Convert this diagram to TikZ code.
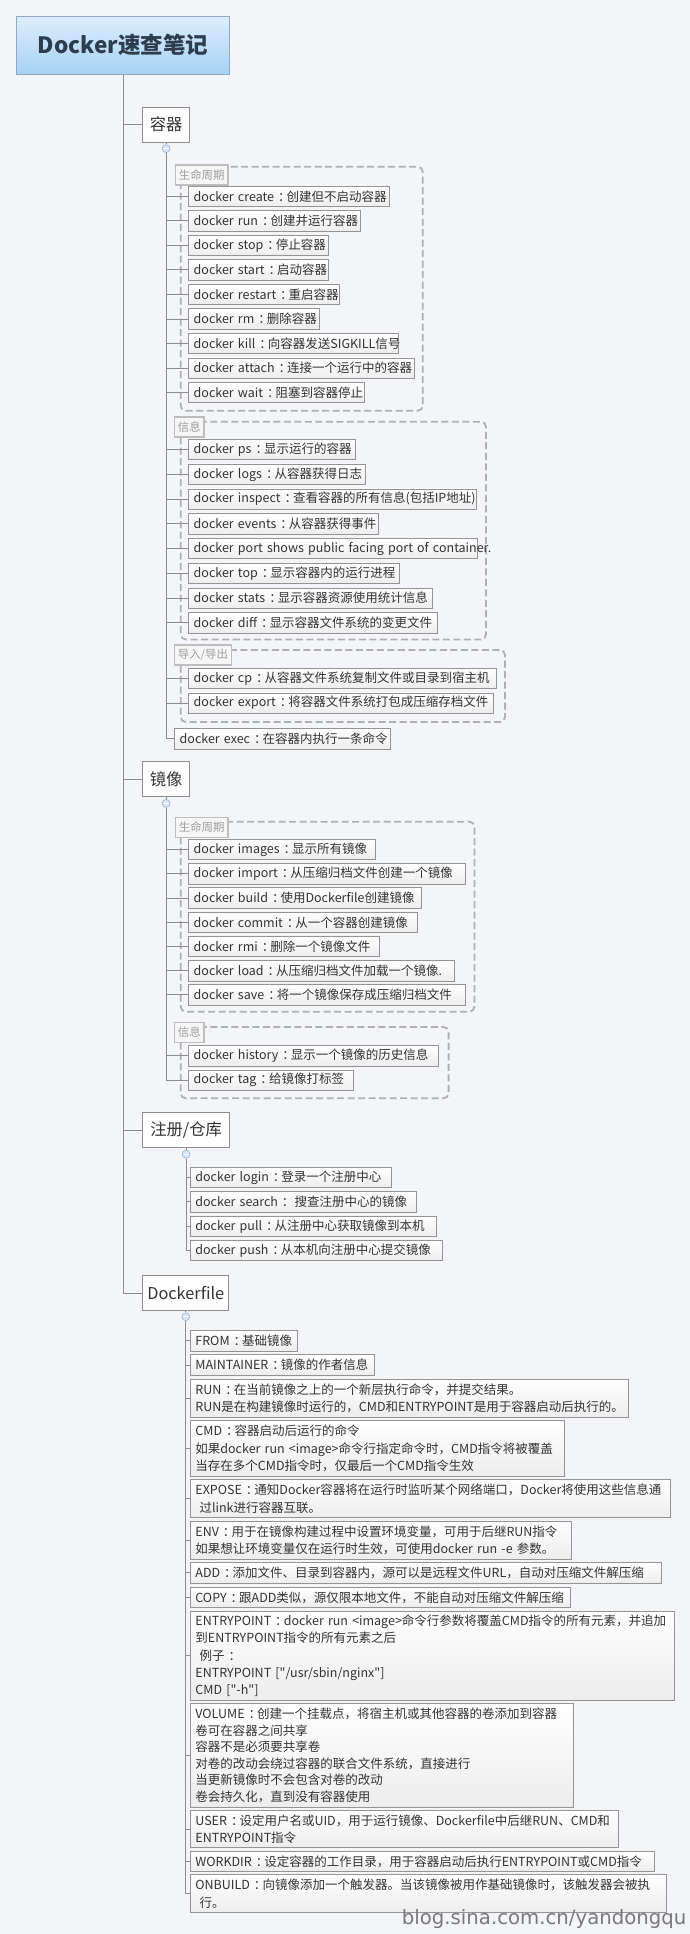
\documentclass[tikz,border=0pt]{standalone}
\usepackage{fontspec}
\newfontfamily\cjk{Noto Sans CJK SC}
\newfontfamily\wmfont{DejaVu Sans}
\definecolor{bgc}{HTML}{F3F5F8}
\definecolor{lnc}{HTML}{8C8C8C}
\definecolor{itb}{HTML}{949494}
\definecolor{itf}{HTML}{EDEDED}
\definecolor{txt}{HTML}{333333}
\definecolor{secb}{HTML}{8E8E8E}
\definecolor{glb}{HTML}{BDBDBD}
\definecolor{glf}{HTML}{F6F6F6}
\definecolor{glt}{HTML}{9E9E9E}
\definecolor{gfc}{HTML}{B0B0B0}
\definecolor{colb}{HTML}{9AB8D8}
\definecolor{colf}{HTML}{D4E6F8}
\definecolor{ttop}{HTML}{DDEEFC}
\definecolor{tbot}{HTML}{A6D1F4}
\definecolor{tbor}{HTML}{8FA9C4}
\definecolor{ttxt}{HTML}{2E3D4D}
\definecolor{wmc}{HTML}{7A7A7A}
\newcommand\cn{\kern4pt：\kern-4pt}
\newcommand\dkitem[7][]{%
  \pgfmathsetmacro\dkW{#5-#3-10}%
  \pgfmathsetmacro\dkH{#6-#4}%
  \node[itembox,#1,text width=\dkW pt,minimum height=\dkH pt] (#2) at (#3,#4) {#7};}
\begin{document}
\begin{tikzpicture}[x=1pt,y=-1pt,
  conn/.style={draw=lnc,line width=0.9pt},
  itembox/.style={draw=itb,top color=white,bottom color=itf,line width=0.8pt,
    inner xsep=5pt,inner ysep=0pt,align=left,text=txt,anchor=north west,
    font=\cjk\fontsize{12.5}{17.4}\selectfont},
  section/.style={draw=secb,fill=white,line width=0.9pt,inner sep=0pt,
    font=\cjk\fontsize{16.3}{18}\selectfont,text=txt,anchor=north west},
  grouplabel/.style={draw=glb,fill=glf,line width=1.8pt,inner xsep=3.5pt,inner ysep=0pt,
    minimum height=20pt,font=\cjk\fontsize{11.4}{13}\selectfont,text=glt,anchor=north west},
  groupframe/.style={draw=gfc,line width=1.8pt,dash pattern=on 7pt off 3.5pt,rounded corners=5pt},
  collapse/.style={circle,draw=colb,fill=colf,minimum size=8pt,inner sep=0pt,line width=0.6pt,
    path picture={\draw[white,line width=0.7pt]
      ([xshift=-2pt]path picture bounding box.center) -- ([xshift=2pt]path picture bounding box.center);}},
  titlebox/.style={draw=tbor,top color=ttop,bottom color=tbot,line width=0.9pt,inner sep=0pt,
    font=\cjk\bfseries\fontsize{22.5}{24}\selectfont,text=ttxt,anchor=north west}
]
\useasboundingbox (0,0) rectangle (690,1934);
\fill[bgc] (0,0) rectangle (690,1934);

% group frames
\draw[groupframe] (180.7,166.7) rectangle (422.7,410.7);
\draw[groupframe] (180.7,421.7) rectangle (486,639.5);
\draw[groupframe] (180.7,650) rectangle (505,722);
\draw[groupframe] (180.7,821.7) rectangle (474.4,1011.7);
\draw[groupframe] (180.7,1026.9) rectangle (448.6,1098.3);

% title and sections
\node[titlebox,minimum width=213.6pt,minimum height=58.3pt] (title) at (15.7,15.7) {Docker速查笔记};
\node[section,minimum width=47.3pt,minimum height=35pt] (sA) at (142,106.7) {容器};
\node[section,minimum width=47.3pt,minimum height=35pt] (sB) at (142,761) {镜像};
\node[section,minimum width=86.7pt,minimum height=35pt] (sC) at (142.3,1112.3) {注册/仓库};
\node[section,minimum width=86pt,minimum height=35pt] (sD) at (142.3,1275) {Dockerfile};

\node[collapse] (cA) at ([yshift=-6pt]sA.south) {};
\node[collapse] (cB) at ([yshift=-6.5pt]sB.south) {};
\node[collapse] (cC) at ([yshift=-6pt]sC.south) {};
\node[collapse] (cD) at ([yshift=-5.8pt]sD.south) {};

% group labels
\node[grouplabel] (gA1) at (174.5,164.3) {生命周期};
\node[grouplabel] (gA2) at (173.5,416) {信息};
\node[grouplabel] (gA3) at (173.5,644.3) {导入/导出};
\node[grouplabel] (gB1) at (174.5,816.5) {生命周期};
\node[grouplabel] (gB2) at (173.5,1021.5) {信息};

% 容器 - 生命周期
\dkitem{a1}{188.3}{185.7}{389}{206.1}{\mbox{docker create\cn 创建但不启动容器}}
\dkitem{a2}{188.3}{210.2}{360.3}{230.6}{\mbox{docker run\cn 创建并运行容器}}
\dkitem{a3}{188.3}{234.8}{328.3}{255.2}{\mbox{docker stop\cn 停止容器}}
\dkitem{a4}{188.3}{259.3}{328.3}{279.7}{\mbox{docker start\cn 启动容器}}
\dkitem{a5}{188.3}{283.9}{339.3}{304.3}{\mbox{docker restart\cn 重启容器}}
\dkitem{a6}{188.3}{308.4}{319}{328.8}{\mbox{docker rm\cn 删除容器}}
\dkitem{a7}{188.3}{332.9}{398.3}{353.3}{\mbox{docker kill\cn 向容器发送SIGKILL信号}}
\dkitem{a8}{188.3}{357.5}{414}{377.9}{\mbox{docker attach\cn 连接一个运行中的容器}}
\dkitem{a9}{188.3}{382.0}{364.3}{402.4}{\mbox{docker wait\cn 阻塞到容器停止}}
% 容器 - 信息
\dkitem{b1}{188.3}{439.0}{355}{459.4}{\mbox{docker ps\cn 显示运行的容器}}
\dkitem{b2}{188.3}{463.8}{365.3}{484.2}{\mbox{docker logs\cn 从容器获得日志}}
\dkitem{b3}{188.3}{488.5}{475.7}{508.9}{\mbox{docker inspect\cn 查看容器的所有信息(包括IP地址)}}
\dkitem{b4}{188.3}{513.3}{377.7}{533.7}{\mbox{docker events\cn 从容器获得事件}}
\dkitem{b5}{188.3}{538.0}{476.7}{558.4}{\mbox{docker port shows public facing port of container.}}
\dkitem{b6}{188.3}{562.8}{399.3}{583.2}{\mbox{docker top\cn 显示容器内的运行进程}}
\dkitem{b7}{188.3}{587.6}{431.7}{608.0}{\mbox{docker stats\cn 显示容器资源使用统计信息}}
\dkitem{b8}{188.3}{612.3}{437}{632.7}{\mbox{docker diff\cn 显示容器文件系统的变更文件}}
% 容器 - 导入/导出
\dkitem{c1}{188.3}{667.7}{495.7}{688.1}{\mbox{docker cp\cn 从容器文件系统复制文件或目录到宿主机}}
\dkitem{c2}{188.3}{692.5}{492.7}{712.9}{\mbox{docker export\cn 将容器文件系统打包成压缩存档文件}}
\dkitem{c3}{174.3}{728.3}{390.3}{748.7}{\mbox{docker exec\cn 在容器内执行一条命令}}
% 镜像 - 生命周期
\dkitem{d1}{188.3}{839.0}{375.3}{859.4}{\mbox{docker images\cn 显示所有镜像}}
\dkitem{d2}{188.3}{863.2}{464.5}{883.6}{\mbox{docker import\cn 从压缩归档文件创建一个镜像}}
\dkitem{d3}{188.3}{887.4}{420.7}{907.8}{\mbox{docker build\cn 使用Dockerfile创建镜像}}
\dkitem{d4}{188.3}{911.7}{416.6}{932.1}{\mbox{docker commit\cn 从一个容器创建镜像}}
\dkitem{d5}{188.3}{935.9}{378.7}{956.3}{\mbox{docker rmi\cn 删除一个镜像文件}}
\dkitem{d6}{188.3}{960.1}{454.1}{980.5}{\mbox{docker load\cn 从压缩归档文件加载一个镜像.}}
\dkitem{d7}{188.3}{984.3}{464.8}{1004.7}{\mbox{docker save\cn 将一个镜像保存成压缩归档文件}}
% 镜像 - 信息
\dkitem{e1}{188.3}{1045.1}{438.3}{1065.5}{\mbox{docker history\cn 显示一个镜像的历史信息}}
\dkitem{e2}{188.3}{1069.5}{352.6}{1089.9}{\mbox{docker tag\cn 给镜像打标签}}
% 注册/仓库
\dkitem{f1}{190}{1166.7}{391.1}{1187.1}{\mbox{docker login\cn 登录一个注册中心}}
\dkitem{f2}{190}{1191.1}{415.6}{1211.5}{\mbox{docker search\cn{} 搜查注册中心的镜像}}
\dkitem{f3}{190}{1215.6}{436.2}{1236.0}{\mbox{docker pull\cn 从注册中心获取镜像到本机}}
\dkitem{f4}{190}{1240.0}{442.4}{1260.4}{\mbox{docker push\cn 从本机向注册中心提交镜像}}
% Dockerfile
\dkitem{g1}{190}{1330}{297.3}{1350.7}{\mbox{FROM\cn 基础镜像}}
\dkitem{g2}{190}{1354.3}{374.4}{1375}{\mbox{MAINTAINER\cn 镜像的作者信息}}
\dkitem{g3}{190}{1378.7}{628.3}{1416.7}{\mbox{RUN\cn 在当前镜像之上的一个新层执行命令，并提交结果。}\\\mbox{RUN是在构建镜像时运行的，CMD和ENTRYPOINT是用于容器启动后执行的。}}
\dkitem{g4}{190}{1420}{564.3}{1476}{\mbox{CMD\cn 容器启动后运行的命令}\\\mbox{如果docker run <image>命令行指定命令时，CMD指令将被覆盖}\\\mbox{当存在多个CMD指令时，仅最后一个CMD指令生效}}
\dkitem{g5}{190}{1479.3}{670}{1517.3}{\mbox{EXPOSE\cn 通知Docker容器将在运行时监听某个网络端口，Docker将使用这些信息通}\\\mbox{ 过link进行容器互联。}}
\dkitem{g6}{190}{1520.7}{571}{1558.7}{\mbox{ENV\cn 用于在镜像构建过程中设置环境变量，可用于后继RUN指令}\\\mbox{如果想让环境变量仅在运行时生效，可使用docker run -e 参数。}}
\dkitem{g7}{190}{1562.3}{660.7}{1582.7}{\mbox{ADD\cn 添加文件、目录到容器内，源可以是远程文件URL，自动对压缩文件解压缩}}
\dkitem{g8}{190}{1586.7}{570}{1607.3}{\mbox{COPY\cn 跟ADD类似，源仅限本地文件，不能自动对压缩文件解压缩}}
\dkitem{g9}{190}{1610.7}{674.3}{1700}{\mbox{ENTRYPOINT\cn docker run <image>命令行参数将覆盖CMD指令的所有元素，并追加}\\\mbox{到ENTRYPOINT指令的所有元素之后}\\\mbox{ 例子\cn}\\\mbox{ENTRYPOINT ["/usr/sbin/nginx"]}\\\mbox{CMD ["-h"]}}
\dkitem[font=\cjk\fontsize{12.5}{16.6}\selectfont]{g10}{190}{1703.3}{573.3}{1806.7}{\mbox{VOLUME\cn 创建一个挂载点，将宿主机或其他容器的卷添加到容器}\\\mbox{卷可在容器之间共享}\\\mbox{容器不是必须要共享卷}\\\mbox{对卷的改动会绕过容器的联合文件系统，直接进行}\\\mbox{当更新镜像时不会包含对卷的改动}\\\mbox{卷会持久化，直到没有容器使用}}
\dkitem[font=\cjk\fontsize{12.5}{16.9}\selectfont]{g11}{190}{1810}{617.7}{1847.3}{\mbox{USER\cn 设定用户名或UID，用于运行镜像、Dockerfile中后继RUN、CMD和}\\\mbox{ENTRYPOINT指令}}
\dkitem{g12}{190}{1851}{654.3}{1871}{\mbox{WORKDIR\cn 设定容器的工作目录，用于容器启动后执行ENTRYPOINT或CMD指令}}
\dkitem{g13}{190}{1874.3}{665.7}{1912.3}{\mbox{ONBUILD\cn 向镜像添加一个触发器。当该镜像被用作基础镜像时，该触发器会被执}\\\mbox{ 行。}}

% connectors
\foreach \s in {sA,sB,sC,sD} \draw[conn] (title.south) |- (\s.west);
\draw[conn] (sA.south) -- (cA.north);
\draw[conn] (sB.south) -- (cB.north);
\draw[conn] (sC.south) -- (cC.north);
\draw[conn] (sD.south) -- (cD.north);
\foreach \n in {a1,a2,a3,a4,a5,a6,a7,a8,a9,b1,b2,b3,b4,b5,b6,b7,b8,c1,c2,c3}
  \draw[conn] (cA.south) |- (\n.west);
\foreach \n in {d1,d2,d3,d4,d5,d6,d7,e1,e2}
  \draw[conn] (cB.south) |- (\n.west);
\foreach \n in {f1,f2,f3,f4}
  \draw[conn] (cC.south) |- (\n.west);
\foreach \n in {g1,g2,g3,g4,g5,g6,g7,g8,g9,g10,g11,g12,g13}
  \draw[conn] (cD.south) |- (\n.west);

% watermark
\node[anchor=base west,inner sep=0pt,text=wmc,font=\wmfont\fontsize{19.7}{22}\selectfont] (wm) at (401.7,1924) {blog.sina.com.cn/yandongqu};
\end{tikzpicture}
\end{document}
